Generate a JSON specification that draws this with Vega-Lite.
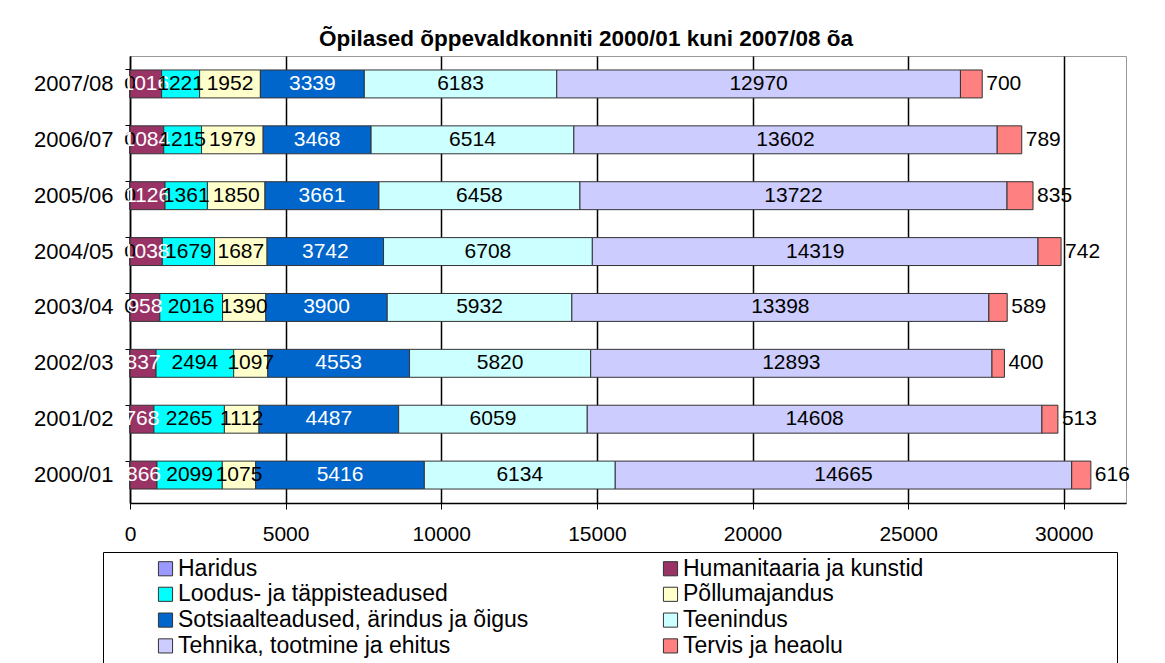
{
  "$schema": "https://vega.github.io/schema/vega-lite/v6.json",
  "width": 996,
  "height": 447,
  "autosize": {"type": "none"},
  "padding": {"left": 130, "top": 56, "right": 39, "bottom": 160},
  "background": "white",
  "config": {
    "view": {"stroke": "#999999", "strokeWidth": 1},
    "font": "Liberation Sans"
  },
  "title": {
    "text": "Õpilased õppevaldkonniti 2000/01 kuni 2007/08 õa",
    "font": "Liberation Sans",
    "fontSize": 22.5,
    "fontWeight": "bold",
    "color": "black",
    "anchor": "middle",
    "dx": -42,
    "offset": 6
  },
  "data": {
    "values": [
      {"y": "2007/08", "s": "Haridus", "v": 0},
      {"y": "2007/08", "s": "Humanitaaria ja kunstid", "v": 1016},
      {"y": "2007/08", "s": "Loodus- ja täppisteadused", "v": 1221},
      {"y": "2007/08", "s": "Põllumajandus", "v": 1952},
      {"y": "2007/08", "s": "Sotsiaalteadused, ärindus ja õigus", "v": 3339},
      {"y": "2007/08", "s": "Teenindus", "v": 6183},
      {"y": "2007/08", "s": "Tehnika, tootmine ja ehitus", "v": 12970},
      {"y": "2007/08", "s": "Tervis ja heaolu", "v": 700},
      {"y": "2006/07", "s": "Haridus", "v": 0},
      {"y": "2006/07", "s": "Humanitaaria ja kunstid", "v": 1084},
      {"y": "2006/07", "s": "Loodus- ja täppisteadused", "v": 1215},
      {"y": "2006/07", "s": "Põllumajandus", "v": 1979},
      {"y": "2006/07", "s": "Sotsiaalteadused, ärindus ja õigus", "v": 3468},
      {"y": "2006/07", "s": "Teenindus", "v": 6514},
      {"y": "2006/07", "s": "Tehnika, tootmine ja ehitus", "v": 13602},
      {"y": "2006/07", "s": "Tervis ja heaolu", "v": 789},
      {"y": "2005/06", "s": "Haridus", "v": 0},
      {"y": "2005/06", "s": "Humanitaaria ja kunstid", "v": 1126},
      {"y": "2005/06", "s": "Loodus- ja täppisteadused", "v": 1361},
      {"y": "2005/06", "s": "Põllumajandus", "v": 1850},
      {"y": "2005/06", "s": "Sotsiaalteadused, ärindus ja õigus", "v": 3661},
      {"y": "2005/06", "s": "Teenindus", "v": 6458},
      {"y": "2005/06", "s": "Tehnika, tootmine ja ehitus", "v": 13722},
      {"y": "2005/06", "s": "Tervis ja heaolu", "v": 835},
      {"y": "2004/05", "s": "Haridus", "v": 0},
      {"y": "2004/05", "s": "Humanitaaria ja kunstid", "v": 1038},
      {"y": "2004/05", "s": "Loodus- ja täppisteadused", "v": 1679},
      {"y": "2004/05", "s": "Põllumajandus", "v": 1687},
      {"y": "2004/05", "s": "Sotsiaalteadused, ärindus ja õigus", "v": 3742},
      {"y": "2004/05", "s": "Teenindus", "v": 6708},
      {"y": "2004/05", "s": "Tehnika, tootmine ja ehitus", "v": 14319},
      {"y": "2004/05", "s": "Tervis ja heaolu", "v": 742},
      {"y": "2003/04", "s": "Haridus", "v": 0},
      {"y": "2003/04", "s": "Humanitaaria ja kunstid", "v": 958},
      {"y": "2003/04", "s": "Loodus- ja täppisteadused", "v": 2016},
      {"y": "2003/04", "s": "Põllumajandus", "v": 1390},
      {"y": "2003/04", "s": "Sotsiaalteadused, ärindus ja õigus", "v": 3900},
      {"y": "2003/04", "s": "Teenindus", "v": 5932},
      {"y": "2003/04", "s": "Tehnika, tootmine ja ehitus", "v": 13398},
      {"y": "2003/04", "s": "Tervis ja heaolu", "v": 589},
      {"y": "2002/03", "s": "Haridus", "v": null},
      {"y": "2002/03", "s": "Humanitaaria ja kunstid", "v": 837},
      {"y": "2002/03", "s": "Loodus- ja täppisteadused", "v": 2494},
      {"y": "2002/03", "s": "Põllumajandus", "v": 1097},
      {"y": "2002/03", "s": "Sotsiaalteadused, ärindus ja õigus", "v": 4553},
      {"y": "2002/03", "s": "Teenindus", "v": 5820},
      {"y": "2002/03", "s": "Tehnika, tootmine ja ehitus", "v": 12893},
      {"y": "2002/03", "s": "Tervis ja heaolu", "v": 400},
      {"y": "2001/02", "s": "Haridus", "v": null},
      {"y": "2001/02", "s": "Humanitaaria ja kunstid", "v": 768},
      {"y": "2001/02", "s": "Loodus- ja täppisteadused", "v": 2265},
      {"y": "2001/02", "s": "Põllumajandus", "v": 1112},
      {"y": "2001/02", "s": "Sotsiaalteadused, ärindus ja õigus", "v": 4487},
      {"y": "2001/02", "s": "Teenindus", "v": 6059},
      {"y": "2001/02", "s": "Tehnika, tootmine ja ehitus", "v": 14608},
      {"y": "2001/02", "s": "Tervis ja heaolu", "v": 513},
      {"y": "2000/01", "s": "Haridus", "v": null},
      {"y": "2000/01", "s": "Humanitaaria ja kunstid", "v": 866},
      {"y": "2000/01", "s": "Loodus- ja täppisteadused", "v": 2099},
      {"y": "2000/01", "s": "Põllumajandus", "v": 1075},
      {"y": "2000/01", "s": "Sotsiaalteadused, ärindus ja õigus", "v": 5416},
      {"y": "2000/01", "s": "Teenindus", "v": 6134},
      {"y": "2000/01", "s": "Tehnika, tootmine ja ehitus", "v": 14665},
      {"y": "2000/01", "s": "Tervis ja heaolu", "v": 616}
    ]
  },
  "transform": [
    {"stack": "v", "groupby": ["y"], "sort": [{"field": "s", "order": "ascending"}], "as": ["v0", "v1"]},
    {"calculate": "(datum.v0 + datum.v1) / 2", "as": "vm"}
  ],
  "encoding": {
    "y": {
      "field": "y",
      "type": "nominal",
      "sort": "descending",
      "scale": {"paddingInner": 0.5, "paddingOuter": 0.25},
      "axis": {
        "title": null,
        "domainColor": "black",
        "domainWidth": 1.5,
        "tickColor": "black",
        "tickSize": 5,
        "bandPosition": 0,
        "labelFont": "Liberation Sans",
        "labelFontSize": 22,
        "labelColor": "black",
        "labelPadding": 12,
        "grid": false
      }
    }
  },
  "layer": [
    {
      "mark": {"type": "bar", "stroke": "#333333", "strokeWidth": 1},
      "encoding": {
        "x": {
          "field": "v0",
          "type": "quantitative",
          "scale": {"domain": [0, 32000], "nice": false},
          "axis": {
            "title": null,
            "values": [0, 5000, 10000, 15000, 20000, 25000, 30000],
            "format": "d",
            "grid": true,
            "gridColor": "black",
            "gridWidth": 1.5,
            "domainColor": "black",
            "domainWidth": 1.5,
            "tickColor": "black",
            "tickSize": 6,
            "labelFont": "Liberation Sans",
            "labelFontSize": 21,
            "labelColor": "black",
            "labelPadding": 14,
            "labelFlush": false
          }
        },
        "x2": {"field": "v1"},
        "color": {
          "field": "s",
          "type": "nominal",
          "scale": {
            "domain": ["Haridus", "Humanitaaria ja kunstid", "Loodus- ja täppisteadused", "Põllumajandus", "Sotsiaalteadused, ärindus ja õigus", "Teenindus", "Tehnika, tootmine ja ehitus", "Tervis ja heaolu"],
            "range": ["#9999FF", "#993366", "#00FFFF", "#FFFFCC", "#0066CC", "#CCFFFF", "#CCCCFF", "#FF8080"]
          },
          "legend": {
            "title": " ",
            "titleOrient": "right",
            "titlePadding": 189,
            "titleFontSize": 10,
            "orient": "none",
            "direction": "horizontal",
            "legendX": -27,
            "legendY": 496,
            "columns": 2,
            "gridAlign": "all",
            "columnPadding": 84,
            "rowPadding": 1.8,
            "padding": 5,
            "strokeColor": "black",
            "fillColor": "white",
            "symbolType": "square",
            "symbolSize": 200,
            "symbolStrokeColor": "#333333",
            "symbolStrokeWidth": 1,
            "symbolOffset": 46,
            "labelOffset": 1,
            "labelFont": "Liberation Sans",
            "labelFontSize": 23,
            "labelColor": "black",
            "labelLimit": 600
          }
        }
      }
    },
    {
      "transform": [{"filter": "datum.v != null && datum.s != 'Tervis ja heaolu'"}],
      "mark": {"type": "text", "font": "Liberation Sans", "fontSize": 21, "baseline": "middle", "align": "center"},
      "encoding": {
        "x": {"field": "vm", "type": "quantitative"},
        "text": {"field": "v", "type": "nominal"},
        "color": {
          "condition": {"test": "datum.s == 'Humanitaaria ja kunstid' || datum.s == 'Sotsiaalteadused, ärindus ja õigus'", "value": "white"},
          "value": "black"
        }
      }
    },
    {
      "transform": [{"filter": "datum.s == 'Tervis ja heaolu'"}],
      "mark": {"type": "text", "font": "Liberation Sans", "fontSize": 21, "baseline": "middle", "align": "left", "dx": 4, "color": "black"},
      "encoding": {
        "x": {"field": "v1", "type": "quantitative"},
        "text": {"field": "v", "type": "nominal"}
      }
    }
  ]
}
